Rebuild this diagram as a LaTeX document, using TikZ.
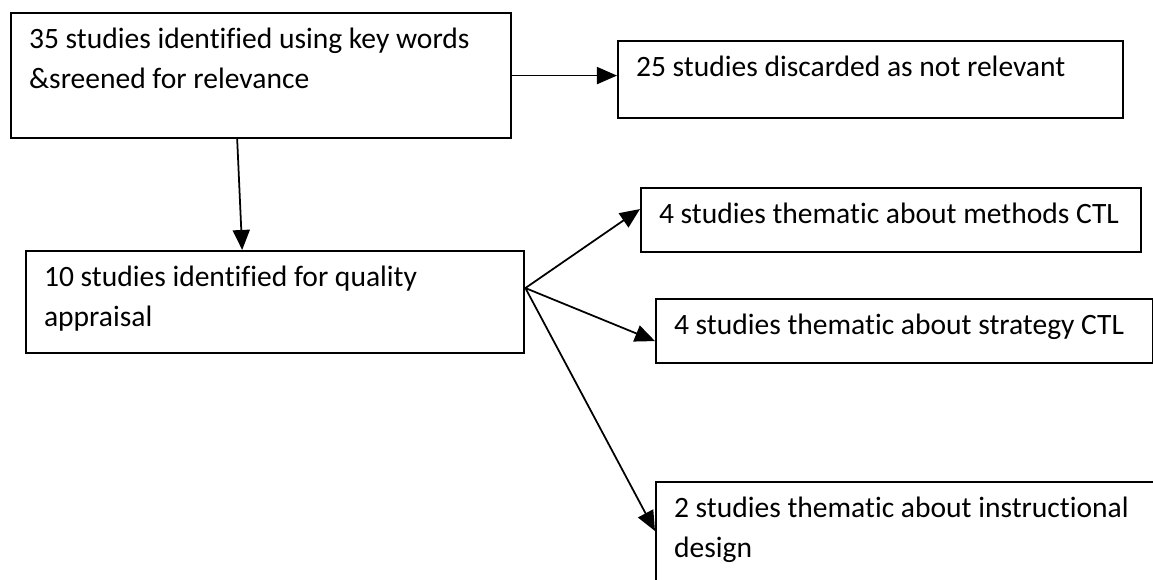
\documentclass[tikz,border=0pt]{standalone}
\usepackage{fontspec}
\setmainfont{Carlito}[Ligatures=NoCommon]
\usetikzlibrary{arrows.meta}
\newcommand{\bxt}[3]{\parbox[t][#2][t]{#1}{\raggedright #3}}

\begin{document}
\begin{tikzpicture}[x=0.01cm,y=-0.01cm,
  box/.style={draw,line width=0.6pt,anchor=north west,inner xsep=0.18cm,inner ysep=0.15cm},
  arr/.style={-{Triangle[length=0.2cm,width=0.17cm]},line width=0.5pt},
  font=\fontsize{8.4}{11.4}\selectfont]

\useasboundingbox (0,0) rectangle (1153,580);
\clip (0,0) rectangle (1153,580);

\node[box] (find) at (10,12)
{\bxt{4.64cm}{0.95cm}{35 studies identified using key words\\ \&sreened for relevance}};
\node[box] (discard) at (617,40)
{\bxt{4.69cm}{0.47cm}{25 studies discarded as not relevant}};

\node[box] (appraise) at (25,250)
{\bxt{4.62cm}{0.72cm}{10 studies identified for quality\\ appraisal}};

\node[box] (methods) at (640,187)
{\bxt{4.64cm}{0.34cm}{4 studies thematic about methods CTL}};
\node[box] (strategy) at (655,298)
{\bxt{4.61cm}{0.34cm}{4 studies thematic about strategy CTL}};
\node[box] (design) at (655,481)
{\bxt{4.7cm}{1.2cm}{2 studies thematic about instructional\\ design}};

\coordinate (hub) at ([yshift=0.14cm]appraise.east);

\draw[arr] (find.east) -- (find.east -| discard.west);
\draw[arr] ([xshift=-0.24cm]find.south) -- ([xshift=-0.33cm]appraise.north);

\draw[arr] (hub) -- ([yshift=0.11cm]methods.west);
\draw[arr] (hub) -- ([yshift=-0.1cm]strategy.west);
\draw[arr] (hub) -- ([yshift=-0.5cm]design.north west);

\end{tikzpicture}
\end{document}
